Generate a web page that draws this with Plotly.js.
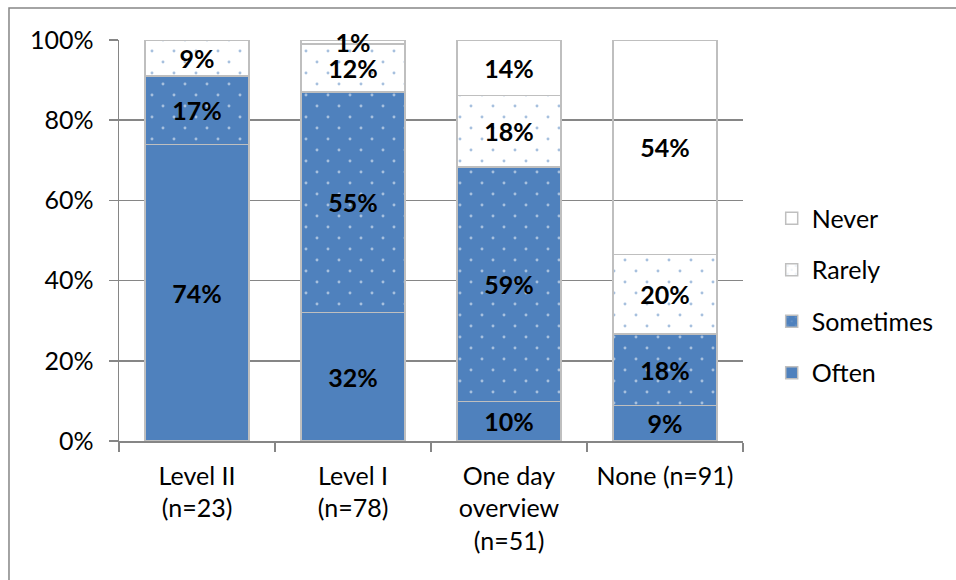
<!DOCTYPE html>
<html>
<head>
<meta charset="utf-8">
<script src="https://cdn.plot.ly/plotly-3.0.1.min.js"></script>
<style>
  html, body { margin: 0; padding: 0; background: #ffffff; }
  #chart { width: 956px; height: 580px; }
</style>
</head>
<body>
<div id="chart"></div>
<script>
// Training level groups and how often each group reports the practice (percent)
const categories = ['Level II<br>(n=23)', 'Level I<br>(n=78)', 'One day<br>overview<br>(n=51)', 'None (n=91)'];
const often     = [74, 32, 10, 9];
const sometimes = [17, 55, 59, 18];
const rarely    = [9, 12, 18, 20];
const never     = [0, 1, 14, 54];
const yTicks    = [0, 20, 40, 60, 80, 100];

const blue = '#4f81bd';
const edge = '#bfbfbf';
const fontFamily = 'Lato, "Open Sans", sans-serif';
const labelFont = { family: fontFamily, size: 25, color: '#000000', weight: 'bold' };
const axisFont = { family: fontFamily, size: 25, color: '#000000' };

function labels(vals) {
  return vals.map(v => (v > 0 ? '<b>' + v + '%</b>' : ''));
}

function series(name, vals, rank, marker) {
  return {
    type: 'bar',
    name: name,
    x: categories,
    y: vals,
    text: labels(vals),
    textposition: 'inside',
    insidetextanchor: 'middle',
    textangle: 0,
    constraintext: 'none',
    cliponaxis: false,
    textfont: labelFont,
    hoverinfo: 'name+y',
    legendgroup: name,
    legendrank: rank,
    marker: Object.assign({ line: { color: edge, width: 1.5 } }, marker)
  };
}

const dotTile = 22;
const traces = [
  series('Often', often, 4, { color: blue }),
  series('Sometimes', sometimes, 3, {
    color: blue,
    pattern: { shape: '.', bgcolor: blue, fgcolor: '#ffffff', size: dotTile, solidity: 0.014, fillmode: 'overlay' }
  }),
  series('Rarely', rarely, 2, {
    color: '#ffffff',
    pattern: { shape: '.', bgcolor: '#ffffff', fgcolor: blue, size: dotTile, solidity: 0.014, fillmode: 'overlay' }
  }),
  series('Never', never, 1, { color: 'rgba(0,0,0,0)' })
];

const layout = {
  width: 956,
  height: 580,
  margin: { l: 119, r: 213, t: 40, b: 139 },
  paper_bgcolor: '#ffffff',
  plot_bgcolor: 'rgba(0,0,0,0)',
  barmode: 'stack',
  barnorm: 'percent',
  bargap: 0.333,
  showlegend: true,
  legend: {
    x: 1.046, xanchor: 'left',
    y: 0.363, yanchor: 'middle',
    traceorder: 'grouped',
    tracegroupgap: 16,
    font: axisFont,
    bgcolor: 'rgba(0,0,0,0)'
  },
  xaxis: {
    type: 'category',
    tickfont: axisFont,
    showline: true,
    linecolor: '#868686',
    linewidth: 1.5,
    ticks: 'outside',
    tickson: 'boundaries',
    ticklen: 9,
    tickcolor: '#868686',
    tickwidth: 1.5,
    ticklabelstandoff: 12,
    showgrid: false,
    fixedrange: true
  },
  yaxis: {
    range: [0, 100],
    tickvals: yTicks,
    ticktext: yTicks.map(v => v + '%'),
    tickfont: axisFont,
    showline: true,
    linecolor: '#868686',
    linewidth: 1.5,
    ticks: 'outside',
    ticklen: 9,
    tickcolor: '#868686',
    tickwidth: 1.5,
    ticklabelstandoff: 10,
    showgrid: true,
    gridcolor: '#868686',
    gridwidth: 1.5,
    zeroline: false,
    fixedrange: true
  },
  shapes: [{
    type: 'rect',
    xref: 'paper', yref: 'paper',
    x0: -0.1763, x1: 1.40,
    y0: -0.40, y1: 1.0798,
    line: { color: '#868686', width: 1.5 },
    fillcolor: 'rgba(0,0,0,0)',
    layer: 'below'
  }]
};

// Stagger the dot fill: add corner dots to each dot tile so alternate rows are offset
function staggerDots(gd) {
  gd.querySelectorAll('pattern').forEach(p => {
    const dot = p.querySelector('circle');
    if (!dot) return;
    const w = parseFloat(p.getAttribute('width'));
    const h = parseFloat(p.getAttribute('height'));
    [[0, 0], [w, 0], [0, h], [w, h]].forEach(([cx, cy]) => {
      const c = dot.cloneNode(false);
      c.setAttribute('cx', cx);
      c.setAttribute('cy', cy);
      p.appendChild(c);
    });
  });
}

Plotly.newPlot('chart', traces, layout, { displayModeBar: false, staticPlot: true })
  .then(staggerDots);
</script>
</body>
</html>
